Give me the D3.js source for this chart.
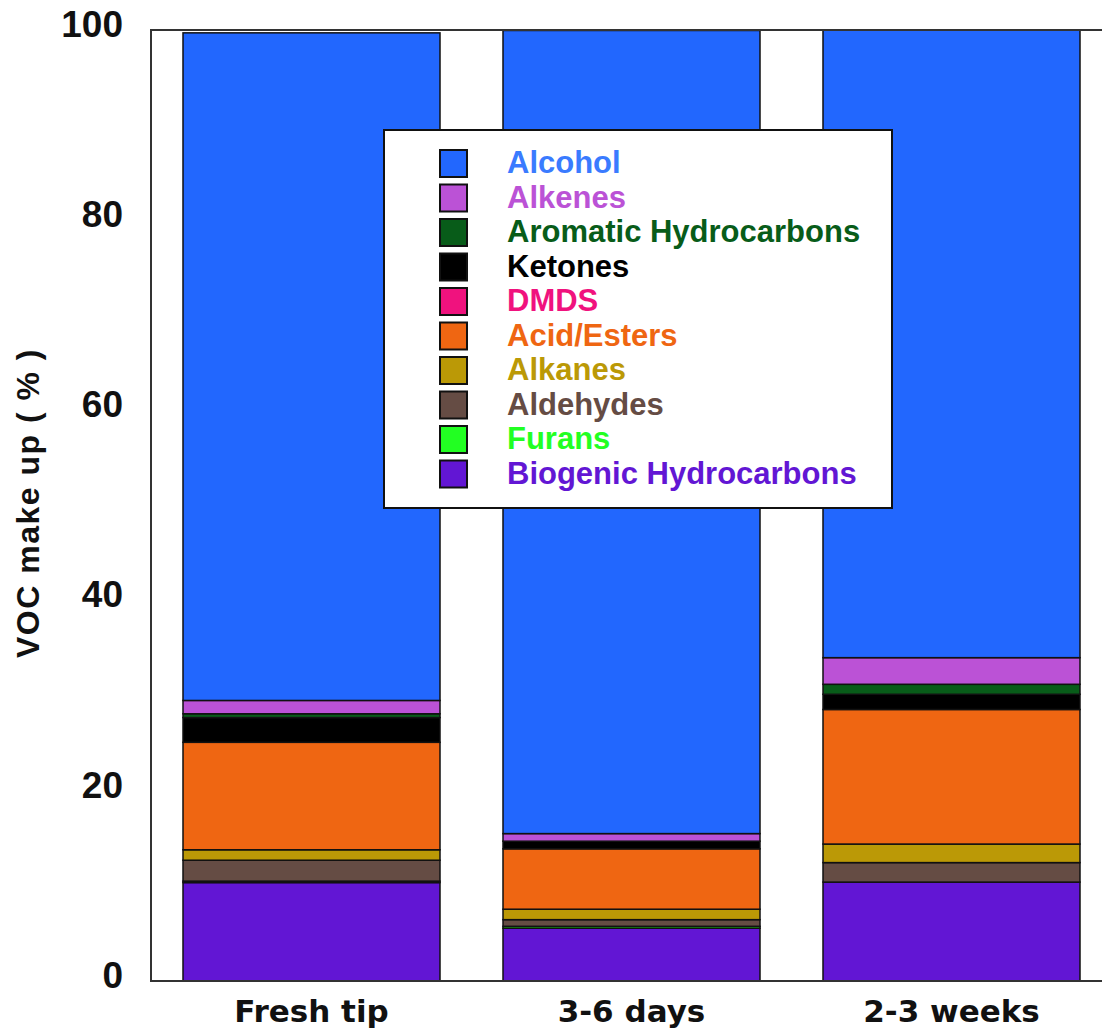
<!DOCTYPE html>
<html>
<head>
<meta charset="utf-8">
<script src="https://cdn.jsdelivr.net/npm/d3@7"></script>
<style>
  html, body { margin: 0; padding: 0; background: #fff; }
  svg { display: block; }
</style>
</head>
<body>
<svg id="chart" width="1102" height="1032"></svg>
<script>
// Sampling stages along the x axis
const categories = ["Fresh tip", "3-6 days", "2-3 weeks"];

// VOC class shares (%) per stage, listed in legend order
const seriesNames = [
  "Alcohol", "Alkenes", "Aromatic Hydrocarbons", "Ketones", "DMDS",
  "Acid/Esters", "Alkanes", "Aldehydes", "Furans", "Biogenic Hydrocarbons"
];
const alcohol    = [70.2, 84.45, 66.0];
const alkenes    = [1.4, 0.8, 2.8];
const aromatic   = [0.4, 0.0, 1.05];
const ketones    = [2.6, 0.8, 1.6];
const dmds       = [0.0, 0.0, 0.0];
const acidEsters = [11.3, 6.35, 14.15];
const alkanes    = [1.1, 1.1, 1.95];
const aldehydes  = [2.2, 0.7, 2.05];
const furans     = [0.15, 0.2, 0.0];
const biogenic   = [10.35, 5.55, 10.4];

const yTicks = [0, 20, 40, 60, 80, 100];

const seriesValues = [alcohol, alkenes, aromatic, ketones, dmds,
                      acidEsters, alkanes, aldehydes, furans, biogenic];
const seriesColors = ["#2267fe", "#bb52d6", "#085c19", "#000000", "#f0127e",
                      "#ef6612", "#bb9906", "#654c44", "#22ff22", "#6216d4"];

// Table for d3.stack: one row per stage
const rows = categories.map((c, i) => {
  const r = { category: c };
  seriesNames.forEach((s, k) => { r[s] = seriesValues[k][i]; });
  return r;
});

// Stack from the bottom: last legend entry sits on the baseline
const stackKeys = seriesNames.slice().reverse();
const stacked = d3.stack().keys(stackKeys)(rows);
const color = d3.scaleOrdinal().domain(seriesNames).range(seriesColors);

const svg = d3.select("#chart");
const plot = { left: 151, right: 1112, top: 30, bottom: 981 };

const x = d3.scaleBand()
  .domain(categories)
  .range([plot.left, plot.right])
  .paddingInner(63 / 320)
  .paddingOuter(0.1);

const y = d3.scaleLinear().domain([0, 100]).range([plot.bottom, plot.top]);

// Stacked bars
svg.append("g")
  .selectAll("g")
  .data(stacked)
  .join("g")
    .attr("fill", d => color(d.key))
  .selectAll("rect")
  .data(d => d.filter(p => p[1] - p[0] > 0))
  .join("rect")
    .attr("x", d => x(d.data.category))
    .attr("width", x.bandwidth())
    .attr("y", d => y(d[1]))
    .attr("height", d => y(d[0]) - y(d[1]))
    .attr("stroke", "#111")
    .attr("stroke-width", 1.5);

// Plot frame
svg.append("rect")
  .attr("x", plot.left)
  .attr("y", plot.top)
  .attr("width", plot.right - plot.left)
  .attr("height", plot.bottom - plot.top)
  .attr("fill", "none")
  .attr("stroke", "#333")
  .attr("stroke-width", 2);

// Y axis labels (no tick marks)
const yAxis = d3.axisLeft(y).tickValues(yTicks).tickSize(0).tickPadding(28);
const yg = svg.append("g").attr("transform", `translate(${plot.left},0)`).call(yAxis);
yg.select(".domain").remove();
yg.selectAll("text")
  .attr("font-family", "'Liberation Sans', Arial, sans-serif")
  .attr("font-weight", "bold")
  .attr("font-size", 37)
  .attr("fill", "#111")
  .attr("dy", "0.17em");

// X axis labels
const xAxis = d3.axisBottom(x).tickSize(0).tickPadding(0);
const xg = svg.append("g").attr("transform", `translate(0,${plot.bottom})`).call(xAxis);
xg.select(".domain").remove();
xg.selectAll("text")
  .attr("font-family", "'DejaVu Sans', sans-serif")
  .attr("font-weight", "bold")
  .attr("font-size", 31)
  .attr("fill", "#111")
  .attr("y", 41)
  .attr("dy", 0);

// Y axis title
svg.append("text")
  .attr("transform", "translate(39,503) rotate(-90)")
  .attr("text-anchor", "middle")
  .attr("font-family", "'Liberation Sans', Arial, sans-serif")
  .attr("font-weight", "bold")
  .attr("font-size", 32)
  .attr("letter-spacing", 1.5)
  .attr("fill", "#111")
  .text("VOC make up ( % )");

// Legend
const legend = svg.append("g");
legend.append("rect")
  .attr("x", 384).attr("y", 130)
  .attr("width", 508).attr("height", 378)
  .attr("fill", "#fff")
  .attr("stroke", "#111")
  .attr("stroke-width", 2);

const item = legend.selectAll("g.item")
  .data(seriesNames)
  .join("g")
    .attr("class", "item")
    .attr("transform", (d, i) => `translate(0,${150 + i * 34.5})`);

item.append("rect")
  .attr("x", 440).attr("y", 0)
  .attr("width", 27).attr("height", 27)
  .attr("fill", d => color(d))
  .attr("stroke", "#111")
  .attr("stroke-width", 2);

item.append("text")
  .attr("x", 507).attr("y", 23)
  .attr("font-family", "'Liberation Sans', Arial, sans-serif")
  .attr("font-weight", "bold")
  .attr("font-size", 31)
  .attr("fill", d => d === "Alcohol" ? "#3a7bff" : color(d))
  .text(d => d);
</script>
</body>
</html>
